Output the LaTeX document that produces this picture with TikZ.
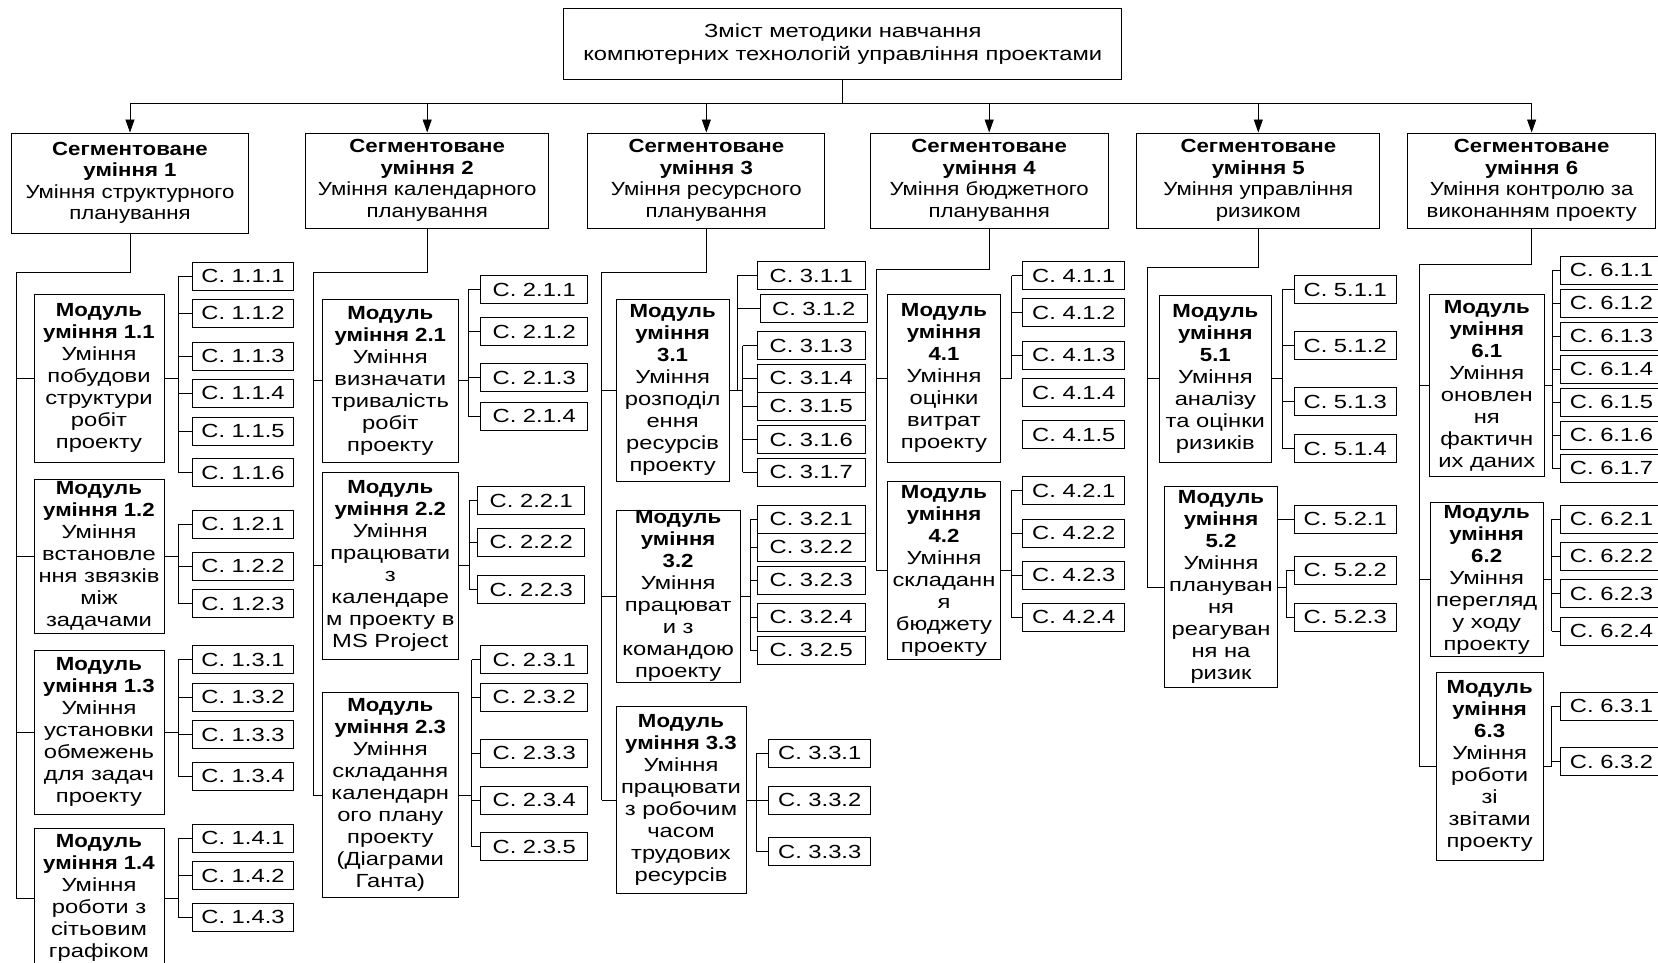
\documentclass[tikz,border=0pt]{standalone}
\usepackage{fontspec}
\setmainfont[FakeStretch=1.25]{Liberation Sans}
\newfontfamily\boldf[FakeStretch=1.17]{Liberation Sans Bold}
\newfontfamily\segf[FakeStretch=1.17]{Liberation Sans}
\usetikzlibrary{arrows.meta}
\newcommand\MB[1]{{\boldf #1}}
\newcommand\B[7][]{\node[box,#1,minimum width={#5-#3},minimum height={#6-#4}] (#2) at ({(#3+#5)/2},{(#4+#6)/2}) {#7};}
\newcommand\fan[3]{%
  \coordinate (brk) at (#2,0);
  \draw (#1.east) -- (#1.east -| brk);
  \foreach \c in {#3} {\draw (\c.west -| brk) -- (\c.west); \draw (\c.west -| brk) -- (#1.east -| brk);}
}
\begin{document}
\begin{tikzpicture}[x=1pt,y=-1pt,line width=0.8pt,
  box/.style={draw,line width=0.95pt,inner sep=0pt,align=center,font=\fontsize{19}{22}\selectfont},
  topbox/.style={font=\fontsize{19}{23}\selectfont},
  segbox/.style={font=\fontsize{19}{21.5}\segf},
  cb/.style={box,minimum height=28},
  arr/.style={-{Triangle[length=13pt,width=9pt]}}]
\useasboundingbox (0,0) rectangle (1658,963);
% top
\B[topbox]{top}{563.6}{8.5}{1121.9}{79}{Зміст методики навчання\\компютерних технологій управління проектами}
% segments
\B[segbox]{s1}{11.6}{133}{248.4}{233}{\MB{Сегментоване}\\\MB{уміння 1}\\Уміння структурного\\планування}
\B[segbox]{s2}{305.6}{133}{548.8}{228}{\MB{Сегментоване}\\\MB{уміння 2}\\Уміння календарного\\планування}
\B[segbox]{s3}{587.9}{133}{824.8}{228}{\MB{Сегментоване}\\\MB{уміння 3}\\Уміння ресурсного\\планування}
\B[segbox]{s4}{870.2}{133}{1108.2}{228}{\MB{Сегментоване}\\\MB{уміння 4}\\Уміння бюджетного\\планування}
\B[segbox]{s5}{1136.7}{133}{1379.9}{228}{\MB{Сегментоване}\\\MB{уміння 5}\\Уміння управління\\ризиком}
\B[segbox]{s6}{1407.4}{133}{1655.9}{228}{\MB{Сегментоване}\\\MB{уміння 6}\\Уміння контролю за\\виконанням проекту}
% modules col 1
\B{m11}{34}{294}{164}{462}{\MB{Модуль}\\\MB{уміння 1.1}\\Уміння\\побудови\\структури\\робіт\\проекту}
\B{m12}{34}{479}{164}{633}{\MB{Модуль}\\\MB{уміння 1.2}\\Уміння\\встановле\\ння звязків\\між\\задачами}
\B{m13}{34}{650}{164}{814}{\MB{Модуль}\\\MB{уміння 1.3}\\Уміння\\установки\\обмежень\\для задач\\проекту}
\B{m14}{34}{828}{164}{968}{\MB{Модуль}\\\MB{уміння 1.4}\\Уміння\\роботи з\\сітьовим\\графіком}
% col 2
\B{m21}{322.3}{299}{458.3}{462.3}{\MB{Модуль}\\\MB{уміння 2.1}\\Уміння\\визначати\\тривалість\\робіт\\проекту}
\B{m22}{322.3}{472.3}{458.3}{659.3}{\MB{Модуль}\\\MB{уміння 2.2}\\Уміння\\працювати\\з\\календаре\\м проекту в\\MS Project}
\B{m23}{322.3}{692.7}{458.3}{897.7}{\MB{Модуль}\\\MB{уміння 2.3}\\Уміння\\складання\\календарн\\ого плану\\проекту\\(Діаграми\\Ганта)}
% col 3
\B{m31}{616}{299}{729.3}{481}{\MB{Модуль}\\\MB{уміння}\\\MB{3.1}\\Уміння\\розподіл\\ення\\ресурсів\\проекту}
\B{m32}{616}{510}{740.3}{682.7}{\MB{Модуль}\\\MB{уміння}\\\MB{3.2}\\Уміння\\працюват\\и з\\командою\\проекту}
\B{m33}{616}{706.7}{746}{893.3}{\MB{Модуль}\\\MB{уміння 3.3}\\Уміння\\працювати\\з робочим\\часом\\трудових\\ресурсів}
% col 4
\B{m41}{887.3}{294.3}{1000.7}{462.3}{\MB{Модуль}\\\MB{уміння}\\\MB{4.1}\\Уміння\\оцінки\\витрат\\проекту}
\B{m42}{887.3}{481.7}{1000.7}{659.3}{\MB{Модуль}\\\MB{уміння}\\\MB{4.2}\\Уміння\\складанн\\я\\бюджету\\проекту}
% col 5
\B{m51}{1159}{295}{1271.7}{462.3}{\MB{Модуль}\\\MB{уміння}\\\MB{5.1}\\Уміння\\аналізу\\та оцінки\\ризиків}
\B{m52}{1164.3}{486.7}{1277.7}{687.7}{\MB{Модуль}\\\MB{уміння}\\\MB{5.2}\\Уміння\\плануван\\ня\\реагуван\\ня на\\ризик}
% col 6
\B{m61}{1429.3}{294.3}{1544.3}{476.7}{\MB{Модуль}\\\MB{уміння}\\\MB{6.1}\\Уміння\\оновлен\\ня\\фактичн\\их даних}
\B{m62}{1430}{502.7}{1543.3}{656.7}{\MB{Модуль}\\\MB{уміння}\\\MB{6.2}\\Уміння\\перегляд\\у ходу\\проекту}
\B{m63}{1436}{672.7}{1543.3}{860}{\MB{Модуль}\\\MB{уміння}\\\MB{6.3}\\Уміння\\роботи\\зі\\звітами\\проекту}
% C boxes col 1
\foreach \k/\n/\y in {111/1.1.1/276,112/1.1.2/313,113/1.1.3/356,114/1.1.4/393,115/1.1.5/431,116/1.1.6/472.5,121/1.2.1/524,122/1.2.2/566,123/1.2.3/603.5,131/1.3.1/659.5,132/1.3.2/697,133/1.3.3/734.5,134/1.3.4/776,141/1.4.1/838,142/1.4.2/875.5,143/1.4.3/917}
  \node[cb,minimum width=100.6] (c\k) at (243,\y) {С. \n};
% col 2
\foreach \k/\n/\y in {211/2.1.1/289.5,212/2.1.2/331.7,213/2.1.3/377.5,214/2.1.4/416,231/2.3.1/659.5,232/2.3.2/697,233/2.3.3/753.3,234/2.3.4/800,235/2.3.5/846.7}
  \node[cb,minimum width=107] (c\k) at (534.2,\y) {С. \n};
\foreach \k/\n/\y in {221/2.2.1/500.5,222/2.2.2/542,223/2.2.3/589.5}
  \node[cb,minimum width=107.3] (c\k) at (531.3,\y) {С. \n};
% col 3
\foreach \k/\n/\y in {311/3.1.1/275.5,313/3.1.3/345.5,314/3.1.4/378.3,315/3.1.5/406.1,316/3.1.6/439.5,317/3.1.7/472,321/3.2.1/519,322/3.2.2/547.2,323/3.2.3/580,324/3.2.4/617.3,325/3.2.5/650}
  \node[cb,minimum width=107.7] (c\k) at (811.2,\y) {С. \n};
\node[cb,minimum width=107.3] (c312) at (813.7,308.7) {С. 3.1.2};
\foreach \k/\n/\y in {331/3.3.1/753.3,332/3.3.2/800,333/3.3.3/851.5}
  \node[cb,minimum width=102] (c\k) at (819.7,\y) {С. \n};
% col 4
\foreach \k/\n/\y in {411/4.1.1/275.5,412/4.1.2/312.8,413/4.1.3/355,414/4.1.4/392.8,415/4.1.5/434.8,421/4.2.1/490.8,422/4.2.2/533,423/4.2.3/575,424/4.2.4/617}
  \node[cb,minimum width=102.3] (c\k) at (1073.8,\y) {С. \n};
% col 5
\foreach \k/\n/\y in {511/5.1.1/289.5,512/5.1.2/345.5,513/5.1.3/401.7,514/5.1.4/448.8,521/5.2.1/519,522/5.2.2/570,523/5.2.3/617}
  \node[cb,minimum width=101.7] (c\k) at (1345.2,\y) {С. \n};
% col 6
\foreach \k/\n/\y in {611/6.1.1/270,612/6.1.2/303,613/6.1.3/336,614/6.1.4/369,615/6.1.5/402,616/6.1.6/435,617/6.1.7/468,621/6.2.1/519,622/6.2.2/556.3,623/6.2.3/593.8,624/6.2.4/631,631/6.3.1/706,632/6.3.2/761.7}
  \node[cb,minimum width=103] (c\k) at (1611.5,\y) {С. \n};
% top connectors
\coordinate (bus) at (0,103);
\draw (top.south) -- (top.south |- bus);
\draw (s1.north |- bus) -- (s6.north |- bus);
\foreach \s in {s1,s2,s3,s4,s5,s6} \draw[arr] (\s.north |- bus) -- (\s.north);
% trunks
\coordinate (k1) at (16,272);
\draw (s1.south) |- (k1) -- (k1 |- m14.west);
\foreach \m in {m11,m12,m13,m14} \draw (k1 |- \m.west) -- (\m.west);
\coordinate (k2) at (313.3,272.7);
\draw (s2.south) |- (k2) -- (k2 |- m23.west);
\foreach \m in {m21,m22,m23} \draw (k2 |- \m.west) -- (\m.west);
\coordinate (k3) at (601.7,272.3);
\draw (s3.south) |- (k3) -- (k3 |- m33.west);
\foreach \m in {m31,m32,m33} \draw (k3 |- \m.west) -- (\m.west);
\coordinate (k4) at (876,269.3);
\draw (s4.south) |- (k4) -- (k4 |- m42.west);
\foreach \m in {m41,m42} \draw (k4 |- \m.west) -- (\m.west);
\coordinate (k5) at (1147.3,267.3);
\draw (s5.south) |- (k5) -- (k5 |- m52.west);
\foreach \m in {m51,m52} \draw (k5 |- \m.west) -- (\m.west);
\coordinate (k6) at (1419.3,264);
\draw (s6.south) |- (k6) -- (k6 |- m63.west);
\foreach \m in {m61,m62,m63} \draw (k6 |- \m.west) -- (\m.west);
% fans
\fan{m11}{178}{c111,c112,c113,c114,c115,c116}
\fan{m12}{178}{c121,c122,c123}
\fan{m13}{178}{c131,c132,c133,c134}
\fan{m14}{178}{c141,c142,c143}
\fan{m21}{468}{c211,c212,c213,c214}
\fan{m22}{469}{c221,c222,c223}
\fan{m23}{471.5}{c231,c232,c233,c234,c235}
\fan{m31}{737.3}{c311,c312}
\fan{m31}{742.7}{c313,c314,c315,c316,c317}
\fan{m32}{750}{c321,c322,c323,c324,c325}
\fan{m33}{756.7}{c331,c332,c333}
\fan{m41}{1011.7}{c411,c412,c413}
\fan{m42}{1011}{c421,c422,c423,c424}
\fan{m51}{1282}{c511,c512,c513,c514}
\draw (c521.west -| m52.east) -- (c521.west);
\fan{m52}{1286}{c522,c523}
\fan{m61}{1552.3}{c611,c612,c613,c614,c615,c616,c617}
\fan{m62}{1551.7}{c621,c622,c623,c624}
\fan{m63}{1551.7}{c631,c632}
\end{tikzpicture}
\end{document}
